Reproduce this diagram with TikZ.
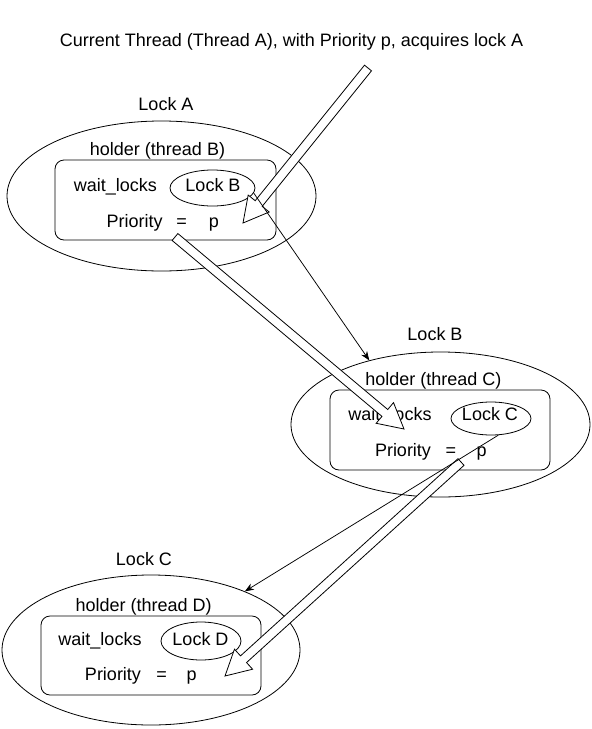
\documentclass[tikz,border=0pt]{standalone}
\usepackage{fontspec}
\setmainfont{Liberation Sans}
\usetikzlibrary{shapes.geometric,calc,arrows.meta}
\tikzset{
  lbl/.style={font=\fontsize{18}{21}\selectfont, anchor=base, inner sep=0pt},
  outerell/.style={draw, ellipse, line width=0.8pt, inner sep=0pt},
  innerell/.style={draw, ellipse, line width=0.8pt, inner sep=0pt},
  holderbox/.style={draw, rectangle, rounded corners=9pt, line width=0.8pt, inner sep=0pt},
  hollow/.style={draw, fill=white, line width=0.8pt, line join=miter},
  thinarrow/.style={draw, line width=0.75pt, -{Stealth[length=9pt,width=7pt]}},
}
\newcommand{\hollowarrow}[3]{%
  \coordinate (#3b) at ($(#2)!25pt!(#1)$);
  \path[hollow] ($(#1)!4.5pt!90:(#2)$) -- ($(#3b)!4.5pt!-90:(#1)$) -- ($(#3b)!13.5pt!-90:(#1)$) -- (#2)
     -- ($(#3b)!13.5pt!90:(#1)$) -- ($(#3b)!4.5pt!90:(#1)$) -- ($(#1)!4.5pt!-90:(#2)$) -- cycle;
}
\begin{document}
\begin{tikzpicture}[x=1pt,y=-1pt]
\useasboundingbox (0,0) rectangle (592,729);

% title
\node[lbl] (title) at (291.5,46) {Current Thread (Thread A), with Priority p, acquires lock A};

% ---- Lock A group
\node[outerell, minimum width=309pt, minimum height=150pt] (ellA) at (161.5,196) {};
\node[lbl] (labA) at (166,110.7) {Lock A};
\node[lbl] (holdA) at (157.5,155) {holder (thread B)};
\node[holderbox, minimum width=221pt, minimum height=80pt] (boxA) at (165.5,200) {};
\node[lbl] (waitA) at (115.3,191) {wait\_locks};
\node[innerell, minimum width=85pt, minimum height=36pt] (lockBin) at (212.5,188) {};
\node[lbl] (lockBtxt) at (213,191) {Lock B};
\node[lbl] (prioA) at (134.7,227) {Priority};
\node[lbl] (eqA) at (181.7,227) {=};
\node[lbl] (pA) at (214,227) {p};

% ---- Lock B group
\node[outerell, minimum width=299pt, minimum height=145pt] (ellB) at (440.5,424.5) {};
\node[lbl] (labB) at (435,340.7) {Lock B};
\node[lbl] (holdB) at (433.3,385.7) {holder (thread C)};
\node[holderbox, minimum width=220pt, minimum height=80pt] (boxB) at (440,430) {};
\node[lbl] (waitB) at (390,420) {wait\_locks};
\node[innerell, minimum width=80pt, minimum height=33pt] (lockCin) at (491,418.5) {};
\node[lbl] (lockCtxt) at (490,420) {Lock C};
\node[lbl] (prioB) at (403,456) {Priority};
\node[lbl] (eqB) at (451,456) {=};
\node[lbl] (pB) at (481.7,456) {p};

% ---- Lock C group
\node[outerell, minimum width=298pt, minimum height=150pt] (ellC) at (151,650) {};
\node[lbl] (labC) at (144,565.7) {Lock C};
\node[lbl] (holdC) at (143.7,611.7) {holder (thread D)};
\node[holderbox, minimum width=220pt, minimum height=79pt] (boxC) at (151,655.5) {};
\node[lbl] (waitC) at (100,645) {wait\_locks};
\node[innerell, minimum width=80pt, minimum height=38pt] (lockDin) at (201,641) {};
\node[lbl] (lockDtxt) at (200.5,645) {Lock D};
\node[lbl] (prioC) at (113,680.7) {Priority};
\node[lbl] (eqC) at (161.7,680.7) {=};
\node[lbl] (pC) at (191.7,680.7) {p};

% ---- hollow arrows
\coordinate (t1) at (368,68);  \coordinate (h1) at (243,223);
\coordinate (t2) at (175,237); \coordinate (h2) at (404,429);
\coordinate (t3) at (461,462); \coordinate (h3) at (225,676);
\hollowarrow{t1}{h1}{ha}
\hollowarrow{t2}{h2}{hb}
\hollowarrow{t3}{h3}{hc}

% ---- thin arrows
\draw[thinarrow] (lockBin.-7) -- (ellB.138);
\draw[thinarrow] (lockCin.-66) -- (ellC.32);
\end{tikzpicture}
\end{document}
